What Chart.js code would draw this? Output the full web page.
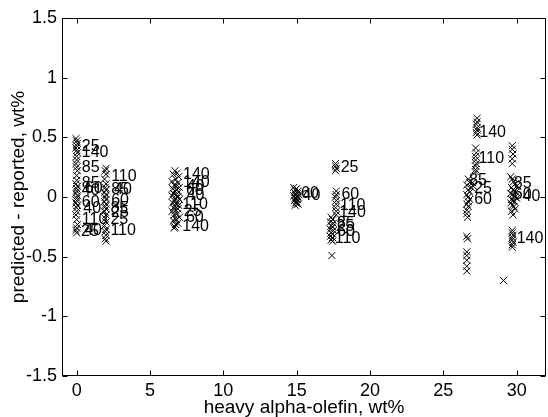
<!DOCTYPE html>
<html>
<head>
<meta charset="utf-8">
<script src="https://cdn.jsdelivr.net/npm/chart.js@4"></script>
<style>
  html, body { margin: 0; padding: 0; overflow: hidden; background: #fff; width: 548px; height: 417px; }
  canvas { display: block; }
</style>
</head>
<body>
<canvas id="c" width="552" height="417"></canvas>
<script>
// Residuals (predicted - reported, wt%) against heavy alpha-olefin content, wt%.
// Each group of points sits at one feed composition.

const olefin0X = [-0.05,0,0.05,0,-0.05,0,0.05,0,0,-0.05,0,0.05,0,0,-0.05,0.05,0,0,-0.05,0.05,0,0,-0.05,0.05,0,0,-0.05,0,0.05,0,-0.05,0];
const olefin0Y = [0.49,0.47,0.45,0.43,0.41,0.39,0.37,0.34,0.31,0.28,0.25,0.22,0.18,0.14,0.11,0.09,0.07,0.05,0.03,0.01,-0.01,-0.03,-0.05,-0.07,-0.09,-0.12,-0.15,-0.19,-0.23,-0.26,-0.28,-0.30];

const olefin2X = [2.0,1.95,2.0,1.9,2.0,1.95,2.0,1.9,2.0,1.95,2.0,1.9,2.0,1.95,2.0,1.9,2.0,1.95,2.0,1.9,2.0,1.95,2.0,1.95,2.0];
const olefin2Y = [0.24,0.22,0.19,0.15,0.11,0.08,0.06,0.04,0.02,0.0,-0.02,-0.04,-0.06,-0.08,-0.10,-0.12,-0.15,-0.18,-0.21,-0.24,-0.27,-0.29,-0.32,-0.35,-0.37];

const olefin7X = [6.7,6.85,6.6,6.95,6.75,6.5,6.9,6.65,6.8,7.0,6.55,6.85,6.7,6.95,6.6,6.8,6.5,6.9,6.75,7.0,6.65,6.85,6.55,6.8,6.95,6.7,6.6,6.9,6.75,6.5,6.85,6.65,7.0,6.7,6.8,6.6,6.9,6.75,6.7,6.65];
const olefin7Y = [0.22,0.20,0.19,0.17,0.15,0.13,0.12,0.10,0.09,0.08,0.07,0.06,0.05,0.04,0.03,0.02,0.01,0.0,-0.01,-0.02,-0.03,-0.04,-0.05,-0.06,-0.07,-0.08,-0.09,-0.10,-0.11,-0.12,-0.14,-0.15,-0.17,-0.18,-0.19,-0.20,-0.22,-0.23,-0.25,-0.26];

const olefin15X = [14.8,15.0,14.9,15.1,14.85,15.05,14.95,15.15,14.8,15.0,15.1,14.9,15.05,14.85,15.0,14.95,15.1,14.9];
const olefin15Y = [0.08,0.07,0.06,0.05,0.04,0.03,0.02,0.02,0.01,0.0,0.0,-0.01,-0.02,-0.03,-0.04,-0.05,-0.06,-0.07];

const olefin17X = [17.65,17.65,17.7,17.65,17.7,17.7,17.65,17.7,17.7,17.65,17.7,17.7,17.35,17.45,17.3,17.5,17.35,17.45,17.3,17.5,17.35,17.45,17.3,17.45,17.35,17.45,17.4];
const olefin17Y = [0.28,0.26,0.24,0.22,0.05,0.02,0.0,-0.03,-0.06,-0.09,-0.12,-0.15,-0.17,-0.19,-0.21,-0.22,-0.24,-0.25,-0.27,-0.28,-0.30,-0.31,-0.33,-0.34,-0.36,-0.37,-0.49];

const olefin27X = [27.3,27.3,27.25,27.3,27.3,27.25,27.3,27.2,27.25,27.2,27.2,27.25,27.2,27.2,27.2,26.7,26.8,26.6,26.9,26.7,26.8,26.6,26.7,26.8,26.7,26.6,26.7,26.6,26.6,26.65,27.0,27.05,26.6,26.65,26.6,26.6,26.6,26.6,26.6,29.1];
const olefin27Y = [0.66,0.63,0.61,0.58,0.56,0.54,0.52,0.41,0.37,0.34,0.31,0.28,0.26,0.23,0.21,0.15,0.12,0.10,0.08,0.06,0.04,0.02,0.0,-0.02,-0.04,-0.06,-0.08,-0.11,-0.14,-0.17,0.12,0.09,-0.33,-0.35,-0.46,-0.49,-0.53,-0.58,-0.62,-0.70];

const olefin30X = [29.7,29.7,29.75,29.7,29.7,29.6,29.7,29.8,29.9,30.0,29.65,29.75,29.85,29.95,29.6,29.7,29.8,29.9,30.0,29.65,29.75,29.85,29.6,29.7,29.8,29.9,29.65,29.75,29.7,29.7,29.75,29.7,29.7,29.75,29.7,29.7];
const olefin30Y = [0.43,0.40,0.36,0.32,0.28,0.17,0.15,0.13,0.11,0.09,0.08,0.06,0.05,0.04,0.03,0.02,0.01,0.0,-0.01,-0.02,-0.03,-0.04,-0.05,-0.07,-0.08,-0.10,-0.12,-0.15,-0.28,-0.30,-0.32,-0.34,-0.36,-0.38,-0.40,-0.42];

// Group tags written next to the points
const tagText = ["25","140","85","85","60","40","60","40","110","25","40",
                 "110","85","40","60","85","25","25","110",
                 "140","140","40","60","40","110","25","60","140",
                 "60","40",
                 "25","60","110","140","85","25","60","110",
                 "140","110","85","25","60",
                 "85","60","40","140"];
const tagX = [0.35,0.35,0.35,0.35,0.55,0.35,0.35,0.45,0.35,0.3,0.5,
              2.35,2.35,2.55,2.35,2.3,2.35,2.3,2.3,
              7.25,7.25,7.5,7.45,7.5,7.2,7.3,7.45,7.2,
              15.3,15.4,
              18.0,18.05,17.95,17.9,17.75,17.7,17.75,17.6,
              27.45,27.4,26.75,27.1,27.1,
              29.8,29.8,30.4,30.0];
const tagY = [0.42,0.37,0.25,0.11,0.07,0.05,-0.05,-0.10,-0.19,-0.29,-0.28,
              0.17,0.06,0.06,-0.03,-0.10,-0.13,-0.19,-0.28,
              0.19,0.12,0.09,0.05,0.01,-0.06,-0.12,-0.17,-0.25,
              0.03,0.01,
              0.25,0.02,-0.07,-0.13,-0.22,-0.25,-0.29,-0.35,
              0.54,0.32,0.14,0.07,-0.02,
              0.11,0.02,0.0,-0.35];

const xTickVals = [0, 5, 10, 15, 20, 25, 30];
const yTickVals = [-1.5, -1, -0.5, 0, 0.5, 1, 1.5];

const groups = [
  [olefin0X, olefin0Y], [olefin2X, olefin2Y], [olefin7X, olefin7Y],
  [olefin15X, olefin15Y], [olefin17X, olefin17Y], [olefin27X, olefin27Y],
  [olefin30X, olefin30Y]
];

const FONT = "'Liberation Sans', Arial, Helvetica, sans-serif";

const datasets = groups.map(([xs, ys]) => ({
  data: xs.map((x, i) => ({ x: x, y: ys[i] })),
  showLine: false,
  pointStyle: 'crossRot',
  pointRadius: 5,
  pointBorderWidth: 1,
  borderColor: '#000',
  backgroundColor: '#000'
}));

// Text tags beside the points
const tagPlugin = {
  id: 'tags',
  afterDatasetsDraw(chart) {
    const { ctx, scales: { x, y } } = chart;
    ctx.save();
    ctx.fillStyle = '#000';
    ctx.font = '16px ' + FONT;
    ctx.textAlign = 'left';
    ctx.textBaseline = 'middle';
    tagText.forEach((t, i) => {
      ctx.fillText(t, x.getPixelForValue(tagX[i]), y.getPixelForValue(tagY[i]));
    });
    ctx.restore();
  }
};

// Closed axes box with inward tick marks on all four sides
const boxPlugin = {
  id: 'box',
  afterDraw(chart) {
    const { ctx, chartArea: a, scales: { x, y } } = chart;
    const L = Math.round(a.left) + 0.5, R = Math.round(a.right) - 0.5;
    const T = Math.round(a.top) + 0.5, B = Math.round(a.bottom) - 0.5;
    ctx.save();
    ctx.strokeStyle = '#000';
    ctx.lineWidth = 1;
    ctx.strokeRect(L, T, R - L, B - T);
    ctx.beginPath();
    xTickVals.forEach(v => {
      const px = Math.round(x.getPixelForValue(v)) + 0.5;
      ctx.moveTo(px, B); ctx.lineTo(px, B - 5);
      ctx.moveTo(px, T); ctx.lineTo(px, T + 5);
    });
    yTickVals.forEach(v => {
      const py = Math.round(y.getPixelForValue(v)) + 0.5;
      ctx.moveTo(L, py); ctx.lineTo(L + 5, py);
      ctx.moveTo(R, py); ctx.lineTo(R - 5, py);
    });
    ctx.stroke();
    ctx.restore();
  }
};

new Chart(document.getElementById('c'), {
  type: 'scatter',
  data: { datasets },
  plugins: [tagPlugin, boxPlugin],
  options: {
    responsive: false,
    animation: false,
    devicePixelRatio: 1,
    layout: { padding: { top: 18, right: 3, left: 0, bottom: 0 } },
    plugins: { legend: { display: false }, tooltip: { enabled: false } },
    scales: {
      x: {
        type: 'linear',
        min: -1, max: 32,
        grid: { display: false, drawTicks: false },
        border: { display: false },
        afterBuildTicks: s => { s.ticks = xTickVals.map(v => ({ value: v })); },
        afterFit: s => { s.height = 41; },
        ticks: {
          color: '#000', padding: 4, maxRotation: 0, autoSkip: false,
          font: { family: FONT, size: 18 },
          callback: v => String(v)
        },
        title: {
          display: true, text: 'heavy alpha-olefin, wt%', color: '#000',
          font: { family: FONT, size: 19, lineHeight: 1 },
          padding: { top: 0, bottom: 0 }
        }
      },
      y: {
        type: 'linear',
        min: -1.5, max: 1.5,
        grid: { display: false, drawTicks: false },
        border: { display: false },
        afterBuildTicks: s => { s.ticks = yTickVals.map(v => ({ value: v })); },
        afterFit: s => { s.width = 62; },
        ticks: {
          color: '#000', padding: 5, autoSkip: false,
          font: { family: FONT, size: 18 },
          callback: v => String(v)
        },
        title: {
          display: true, text: 'predicted - reported, wt%', color: '#000',
          font: { family: FONT, size: 19, lineHeight: 1 },
          padding: { top: 9.5, bottom: 0 }
        }
      }
    }
  }
});
</script>
</body>
</html>
